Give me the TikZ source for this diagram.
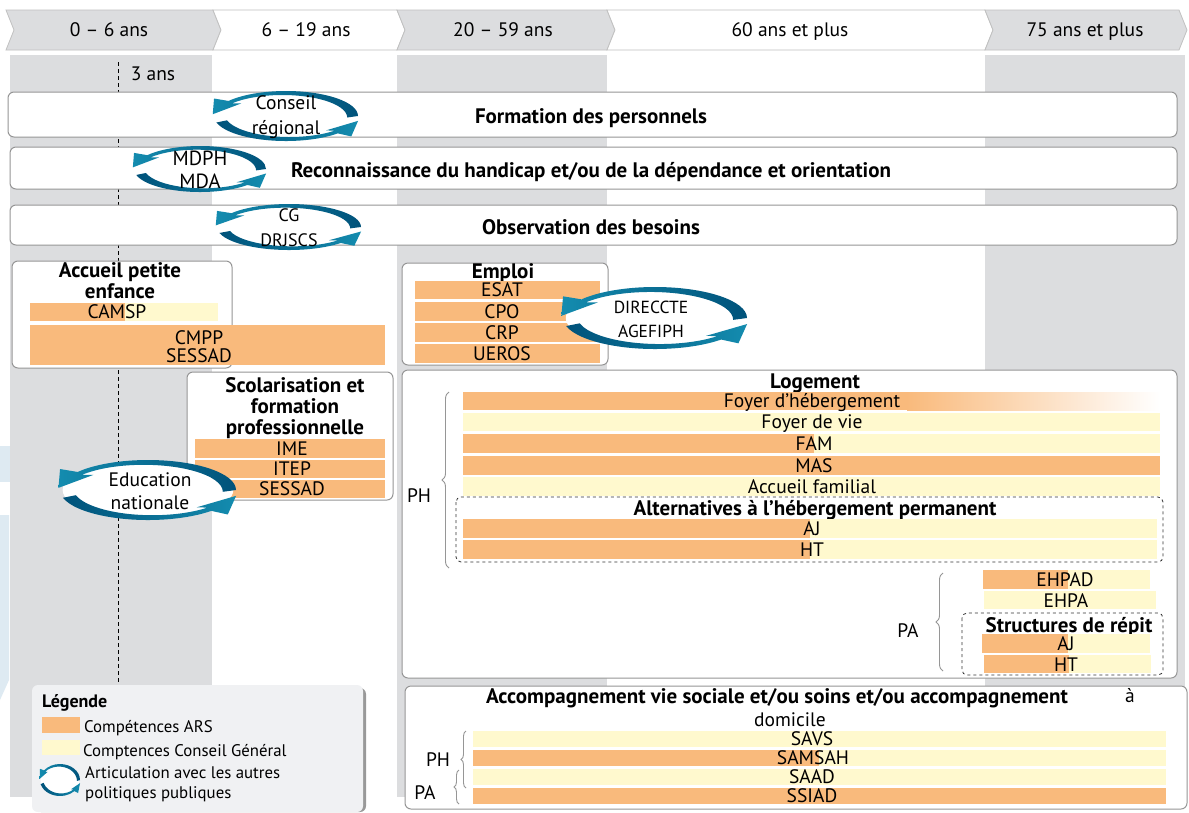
\documentclass[tikz,border=0pt]{standalone}
\usepackage{fontspec}
\setmainfont{PT Sans}
\usetikzlibrary{decorations.pathreplacing}

\definecolor{ars}{RGB}{249,186,124}
\definecolor{cgy}{RGB}{255,249,206}
\definecolor{colgray}{RGB}{220,221,223}
\definecolor{edge}{RGB}{150,150,150}
\definecolor{tealL}{RGB}{20,140,175}
\definecolor{tealD}{RGB}{0,82,122}
\definecolor{wmark}{RGB}{222,234,242}
\definecolor{legfill}{RGB}{240,241,243}

% cycle of two arrows round a point: centre, x radius, y radius
\newcommand{\cycarrows}[3]{%
\begin{scope}[shift={(#1)},xscale=#2,yscale=-#3]
\fill[white] (0,0) circle (0.97);
\shade[left color=tealL,right color=tealD] (0:1) arc[start angle=0,end angle=143,radius=1]
  -- (145:1.22) -- (176:1.02) -- (141:0.8)
  -- ([shift={(-0.05,-0.06)}]141:0.9) arc[start angle=141,end angle=0,radius=0.9] -- cycle;
\shade[left color=tealD,right color=tealL] (195:1) arc[start angle=195,end angle=316,radius=1]
  -- (318:1.22) -- (349:1.02) -- (314:0.8)
  -- ([shift={(0.05,0.06)}]314:0.9) arc[start angle=314,end angle=195,radius=0.9] -- cycle;
\end{scope}}

\begin{document}
\begin{tikzpicture}[x=1pt,y=-1pt,
  box/.style={draw=edge,line width=1pt,rounded corners=6pt,fill=white},
  dbox/.style={draw=black!80,dashed,line width=0.8pt,rounded corners=5pt},
  lab/.style={inner sep=0pt,text height=13.6pt,text depth=0pt,font=\fontsize{19.5}{20}\selectfont},
  two/.style={inner sep=0pt,align=center,font=\fontsize{19.5}{18}\selectfont},
  small/.style={inner sep=0pt,anchor=west,text height=11.8pt,text depth=0pt,font=\fontsize{16.8}{18}\selectfont},
  ttl/.style={inner sep=0pt,align=center,font=\fontsize{21}{21}\selectfont\bfseries},
  flat/.style={text height=14.7pt,text depth=0pt},
  cyc/.style={inner sep=0pt,align=center,font=\fontsize{19.5}{25}\selectfont},
  brc/.style={draw=edge,line width=0.9pt,decorate,decoration={brace,amplitude=7pt}}]
\path[use as bounding box,fill=white] (0,0) rectangle (1189,812);

% watermark on the left
\fill[wmark] (0,446) rectangle (11,482);
\fill[wmark] (0,515) -- (9,515) -- (9,680) -- (0,700) -- cycle;

% age columns
\fill[colgray] (10,55) rectangle (212,797);
\fill[colgray] (397,55) rectangle (607,797);
\fill[colgray] (985,55) rectangle (1185,797);

% age bands
\foreach \xa/\xb/\c in {6/213/colgray,213/397/white,397/607/colgray,607/985/white,985/1179/colgray}
  \path[draw=edge!60,line width=0.8pt,fill=\c] (\xa,10) -- (\xb,10) -- (\xb+8,30) -- (\xb,50) -- (\xa,50) -- (\xa+8,30) -- cycle;
\node[lab] (age1) at (109,30) {0 – 6 ans};
\node[lab] (age2) at (306,30) {6 – 19 ans};
\node[lab] (age3) at (503,30) {20 – 59 ans};
\node[lab] (age4) at (790,30) {60 ans et plus};
\node[lab] (age5) at (1085,30) {75 ans et plus};

% 3 ans
\coordinate (trois) at (118,62);
\coordinate (troisb) at (118,812);
\draw[dash pattern=on 4pt off 3pt,line width=0.8pt] (trois) -- (troisb);
\node[lab] (tr) at (153,74) {3 ans};

% transverse rows
\draw[box] (8,92) rectangle (1177,137);
\node[ttl,flat] (form) at (591,116) {Formation des personnels};
\draw[box] (10,147) rectangle (1177,189);
\node[ttl,flat] (reco) at (591,170) {Reconnaissance du handicap et/ou de la dépendance et orientation};
\draw[box] (10,205) rectangle (1177,245);
\node[ttl,flat] (obs) at (591,227) {Observation des besoins};

\coordinate (c1) at (286,116);
\cycarrows{c1}{72}{25}
\node[cyc] (cr) at (286,117) {Conseil\\régional};
\coordinate (c2) at (200,169);
\cycarrows{c2}{66}{23}
\node[cyc,font=\fontsize{20.5}{23}\selectfont] (mdph) at (200,170) {MDPH\\MDA};
\coordinate (c3) at (289,227);
\cycarrows{c3}{72}{23}
\node[cyc,font=\fontsize{18}{25}\selectfont] (cg) at (289,228) {CG\\DRJSCS};

% accueil petite enfance
\draw[box] (12,261) rectangle (232,368);
\node[ttl] (ape) at (120,281) {Accueil petite\\enfance};
\fill[ars] (30,303) rectangle (125,321);
\fill[cgy] (125,303) rectangle (218,321);
\node[lab] (camsp) at (117,312) {CAMSP};
\fill[ars] (30,325) rectangle (385,365);
\node[two] (cmpp) at (199,347) {CMPP\\SESSAD};

% scolarisation
\draw[box] (187,372) rectangle (393,500);
\node[ttl] (scol) at (295,408) {Scolarisation et\\formation\\professionnelle};
\fill[ars] (195,439) rectangle (385,458);
\fill[ars] (195,460) rectangle (385,478);
\fill[ars] (195,480) rectangle (385,498);
\node[lab] (ime) at (292,449) {IME};
\node[lab] (itep) at (292,469) {ITEP};
\node[lab] (sessad) at (292,489) {SESSAD};

\coordinate (c4) at (148,490);
\cycarrows{c4}{88}{30}
\node[cyc,font=\fontsize{19.5}{23}\selectfont] (edu) at (150,491) {Education\\nationale};

% emploi
\draw[box] (402,263) rectangle (608,365);
\node[ttl,flat] (emploi) at (503,271) {Emploi};
\fill[ars] (415,281) rectangle (600,299);
\fill[ars] (415,302) rectangle (600,321);
\fill[ars] (415,323) rectangle (600,342);
\fill[ars] (415,344) rectangle (600,363);
\node[lab] (esat) at (502,290) {ESAT};
\node[lab] (cpo) at (502,312) {CPO};
\node[lab] (crp) at (502,333) {CRP};
\node[lab] (ueros) at (502,354) {UEROS};

\coordinate (c5) at (655,318);
\cycarrows{c5}{92}{31}
\node[cyc,font=\fontsize{17.5}{24}\selectfont] (dir) at (651,319) {DIRECCTE\\AGEFIPH};

% logement
\draw[box] (402,370) rectangle (1177,678);
\node[ttl,flat] (loge) at (815,381) {Logement};
\fill[ars] (463,392) rectangle (907,410);
\shade[left color=ars,right color=white] (907,392) rectangle (1160,410);
\node[lab] (fh) at (812,401) {Foyer d’hébergement};
\fill[cgy] (463,413) rectangle (1160,431);
\node[lab] (fv) at (812,422) {Foyer de vie};
\fill[ars] (463,434) rectangle (814,453);
\fill[cgy] (814,434) rectangle (1160,453);
\node[lab] (fam) at (814,444) {FAM};
\fill[ars] (463,456) rectangle (1160,475);
\node[lab] (mas) at (814,466) {MAS};
\fill[cgy] (463,477) rectangle (1160,496);
\node[lab] (af) at (812,487) {Accueil familial};
\draw[dbox] (456,497) rectangle (1163,562);
\node[ttl,flat] (alt) at (815,508) {Alternatives à l’hébergement permanent};
\fill[ars] (463,519) rectangle (810,538);
\fill[cgy] (810,519) rectangle (1157,538);
\node[lab] (aj1) at (812,529) {AJ};
\fill[ars] (463,540) rectangle (810,559);
\fill[cgy] (810,540) rectangle (1157,559);
\node[lab] (ht1) at (812,550) {HT};
\draw[brc] (449,568) -- (449,392);
\node[lab] (ph1) at (419,496) {PH};

\fill[ars] (983,570) rectangle (1068,589);
\fill[cgy] (1068,570) rectangle (1150,589);
\node[lab] (ehpad) at (1065,580) {EHPAD};
\fill[cgy] (984,591) rectangle (1156,609);
\node[lab] (ehpa) at (1066,601) {EHPA};
\draw[dbox] (962,613) rectangle (1163,675);
\node[ttl,flat] (rep) at (1069,625) {Structures de répit};
\fill[ars] (982,634) rectangle (1068,653);
\fill[cgy] (1068,634) rectangle (1150,653);
\node[lab] (aj2) at (1066,644) {AJ};
\fill[ars] (984,655) rectangle (1069,673);
\fill[cgy] (1069,655) rectangle (1151,673);
\node[lab] (ht2) at (1066,665) {HT};
\draw[brc] (943,671) -- (943,573);
\node[lab] (pa1) at (908,631) {PA};

% accompagnement a domicile
\draw[box] (405,686) rectangle (1187,809);
\node[ttl,flat] (acc) at (777,696) {Accompagnement vie sociale et/ou soins et/ou accompagnement};
\node[lab] (acca) at (1130,696) {à};
\node[lab] (accd) at (790,720) {domicile};
\fill[cgy] (473,731) rectangle (1166,747);
\node[lab] (savs) at (812,739) {SAVS};
\fill[ars] (473,750) rectangle (819,766);
\fill[cgy] (819,750) rectangle (1166,766);
\node[lab] (samsah) at (813,758) {SAMSAH};
\fill[cgy] (473,769) rectangle (1166,785);
\node[lab] (saad) at (812,777) {SAAD};
\fill[ars] (473,788) rectangle (1166,804);
\node[lab] (ssiad) at (812,796) {SSIAD};
\draw[brc,decoration={amplitude=5pt}] (466,788) -- (466,731);
\node[lab] (ph2) at (438,760) {PH};
\draw[brc,decoration={amplitude=5pt}] (459,804) -- (459,770);
\node[lab] (pa2) at (425,793) {PA};

% legende
\fill[black!40,rounded corners=6pt] (35,688) rectangle (366,812);
\fill[legfill,rounded corners=6pt] (32,685) rectangle (363,812);
\node[small,font=\fontsize{18}{18}\selectfont\bfseries] (leg) at (42,702) {Légende};
\fill[ars] (42,717) rectangle (80,733);
\node[small] (lars) at (84,727) {Compétences ARS};
\fill[cgy] (42,740) rectangle (80,755);
\node[small] (lcg) at (83,751) {Comptences Conseil Général};
\coordinate (c6) at (60,780);
\cycarrows{c6}{20}{16}
\node[small,align=left,text height=,text depth=,font=\fontsize{16.8}{20}\selectfont] (lart) at (85,784) {Articulation avec les autres\\politiques publiques};
\end{tikzpicture}
\end{document}
